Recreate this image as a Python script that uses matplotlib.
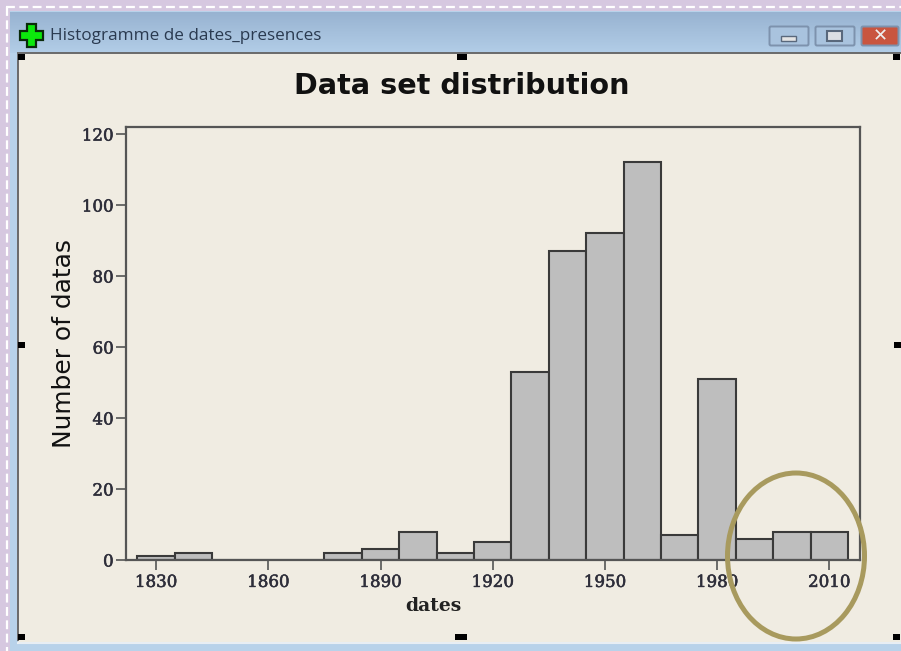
# Histogram of dates, shown inside the Minitab window screenshot
import matplotlib
matplotlib.use("Agg")
import numpy as np
import matplotlib.pyplot as plt
import matplotlib.patheffects as pe
from matplotlib.patches import Rectangle, Ellipse, FancyBboxPatch, Polygon

bin_centers = [1830, 1840, 1850, 1860, 1870, 1880, 1890, 1900, 1910, 1920,
               1930, 1940, 1950, 1960, 1970, 1980, 1990, 2000, 2010]
counts = [1, 2, 0, 0, 0, 2, 3, 8, 2, 5, 53, 87, 92, 112, 7, 51, 6, 8, 8]
x_ticks = [1830, 1860, 1890, 1920, 1950, 1980, 2010]
y_ticks = [0, 20, 40, 60, 80, 100, 120]

W, H = 901, 651
panel = "#f0ece2"

fig = plt.figure(figsize=(W/100, H/100), dpi=100, facecolor="#d6c8e0")

# window chrome, in pixel coordinates
bg = fig.add_axes([0, 0, 1, 1])
bg.set_xlim(0, W)
bg.set_ylim(H, 0)
bg.axis("off")
bg.plot([6, 901], [7, 7], color="white", lw=1.6, ls=(0, (4, 2)))
bg.plot([7, 7], [7, 651], color="white", lw=1.6, ls=(0, (4, 2)))
bg.add_patch(Rectangle((10, 11), 891, 640, fc="#b8d2ea", ec="none"))
grad = np.linspace(0, 1, 40).reshape(-1, 1)
top_c = np.array([0x98, 0xb3, 0xd1])/255
bot_c = np.array([0xb2, 0xcd, 0xe7])/255
bar = top_c + (bot_c-top_c)*grad[..., None]
bg.imshow(bar, extent=(10, 901, 53, 12), aspect="auto", zorder=1)
bg.set_xlim(0, W)
bg.set_ylim(H, 0)
bg.add_patch(Rectangle((18, 53), 883, 591, fc=panel, ec="none", zorder=2))
bg.plot([18, 901], [53, 53], color="#6a6a6a", lw=1.4, zorder=3)
bg.plot([18, 18], [53, 640], color="#6a6a6a", lw=1.4, zorder=3)
bg.add_patch(Rectangle((10, 644), 891, 7, fc="#b8d2ea", ec="none", zorder=2))
bg.plot([18, 901], [643, 643], color="#e8eef4", lw=1.5, zorder=3)

# green plus icon
cx, cy, a, b = 31.5, 35, 11.5, 4.5
plus = [(cx-b, cy-a), (cx+b, cy-a), (cx+b, cy-b), (cx+a, cy-b), (cx+a, cy+b), (cx+b, cy+b),
        (cx+b, cy+a), (cx-b, cy+a), (cx-b, cy+b), (cx-a, cy+b), (cx-a, cy-b), (cx-b, cy-b)]
bg.add_patch(Polygon(plus, closed=True, fc="#0ce80c", ec="#0a2a0a", lw=1.6, zorder=5))
bg.text(50, 36, "Histogramme de dates_presences", fontsize=12.3, color="#2a3a50",
        family="Open Sans", va="center", ha="left", zorder=5)

# window buttons
for x0, x1, fc in [(769, 809, "#a9c3de"), (815, 855, "#a9c3de"), (861, 899, "#c9553f")]:
    bg.add_patch(FancyBboxPatch((x0+2, 28), x1-x0-4, 16, boxstyle="round,pad=1.5",
                                fc=fc, ec="#7d92ad", lw=1.4, zorder=4))
bg.add_patch(Rectangle((781, 36), 15, 5, fc="#e4e4e4", ec="#59687c", lw=1, zorder=5))
bg.add_patch(Rectangle((827, 31), 15, 10, fc="#dcdfe4", ec="#59687c", lw=1.5, zorder=5))
bg.text(880, 36, "✕", fontsize=13, color="#eeeeee", fontweight="bold",
        ha="center", va="center", zorder=5)

# resize handles
for hx, hy, hw in [(18, 54, 7), (457, 54, 10), (893, 54, 7), (18, 342, 7), (894, 342, 7),
                   (18, 634, 7), (455, 634, 12), (893, 634, 7)]:
    bg.add_patch(Rectangle((hx, hy), hw, 6, fc="black", ec="none", zorder=6))

bg.text(461.5, 86, "Data set distribution", fontsize=20.6, color="#111111", family="DejaVu Sans",
        fontweight="bold", ha="center", va="center", zorder=6)

# histogram
ax = fig.add_axes([125.5/W, 1-560/H, (860-125.5)/W, (560-127)/H], facecolor=panel, zorder=5)
ax.bar(bin_centers, counts, width=10, color="#bebebe", edgecolor="#3a3a3a", linewidth=1.5)
ax.set_xlim(1821.8, 2018.2)
ax.set_ylim(0, 122)
ax.set_xticks(x_ticks)
ax.set_yticks(y_ticks)
for s in ax.spines.values():
    s.set_color("#555555")
    s.set_linewidth(1.6)
ax.tick_params(axis="x", length=7, width=1.2, color="#555555", labelcolor="#2e2e3a", pad=3)
ax.tick_params(axis="y", length=7, width=1.2, color="#555555", labelcolor="#2e2e3a", pad=1.5)
for lab in ax.get_xticklabels()+ax.get_yticklabels():
    lab.set_family("DejaVu Serif")
    lab.set_fontsize(12)
    lab.set_path_effects([pe.withStroke(linewidth=0.4, foreground="#2e2e3a")])
ax.set_xlabel("dates", fontsize=13.5, family="DejaVu Serif", fontweight="bold", color="#222222")
ax.xaxis.set_label_coords((433.5-125.5)/(860-125.5), -(606-560)/(560-127), transform=ax.transAxes)
ax.xaxis.label.set_va("center")
ax.set_ylabel("Number of datas", fontsize=17.9, family="DejaVu Sans", color="#111111")
ax.yaxis.set_label_coords((64-125.5)/(860-125.5), (560-343.5)/(560-127), transform=ax.transAxes)
ax.yaxis.label.set_va("center")

# annotation circle
ov = fig.add_axes([0, 0, 1, 1], zorder=10)
ov.set_xlim(0, W)
ov.set_ylim(H, 0)
ov.axis("off")
ov.add_patch(Ellipse((796, 556), 137, 166, fc="none", ec="#a89a5e", lw=3.6))

fig.savefig("out.png", dpi=100, facecolor=fig.get_facecolor())
